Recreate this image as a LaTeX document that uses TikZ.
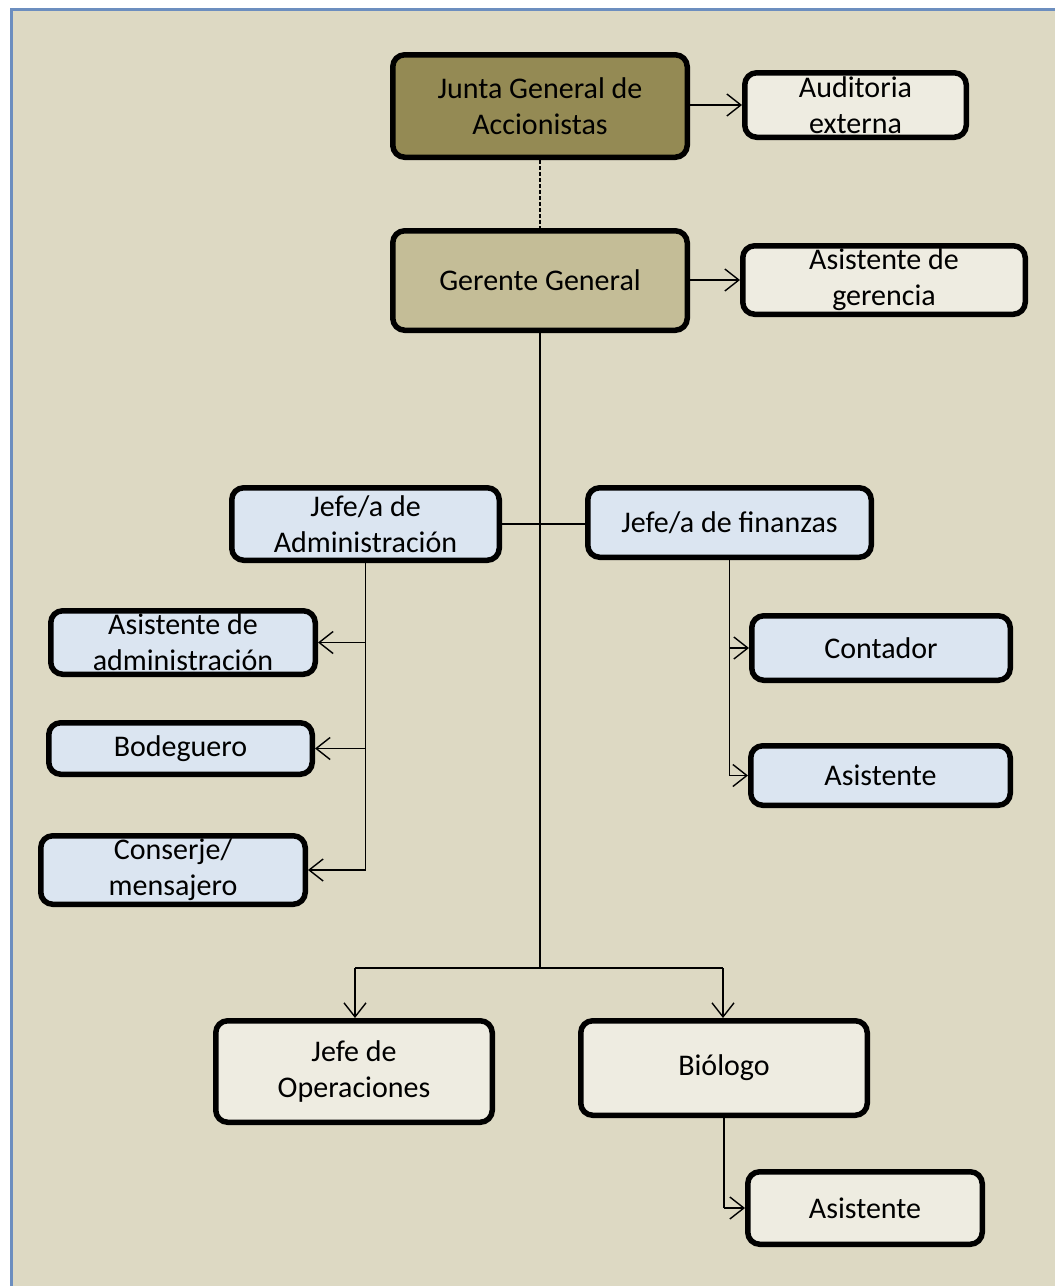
\documentclass[tikz,border=0pt]{standalone}
\usepackage{fontspec}
\setmainfont{Carlito}
\usetikzlibrary{arrows.meta}
\definecolor{bgc}{HTML}{DDD9C3}
\definecolor{bordc}{HTML}{6C8EBF}
\definecolor{olive}{HTML}{948A54}
\definecolor{tan}{HTML}{C4BD97}
\definecolor{cream}{HTML}{EEECE1}
\definecolor{paleblue}{HTML}{DBE5F1}
\tikzset{
  box/.style={draw=black, line width=5.5pt, rounded corners=12pt, align=center,
    font=\fontsize{30}{36}\selectfont, inner sep=0pt},
  conn/.style={line width=1.4pt, draw=black},
  arr/.style={conn, -{Straight Barb[length=14pt,width=22pt,line width=1.4pt]}},
}
\begin{document}
\begin{tikzpicture}[x=1pt,y=-1pt]
\useasboundingbox (0,0) rectangle (1055,1286);
\fill[bgc] (11,9) rectangle (1070,1300);
\draw[bordc, line width=3pt] (1070,9) -- (11,9) -- (11,1300);
% nodes
\node[box, fill=olive, minimum width=294.5pt, minimum height=102.5pt] (junta) at (540,106) {Junta General de\\Accionistas};
\node[box, fill=cream, minimum width=221.5pt, minimum height=64.5pt] (audit) at (855.5,105) {Auditoria\\externa};
\node[box, fill=tan, minimum width=294.5pt, minimum height=99.5pt] (ger) at (540,280.5) {Gerente General};
\node[box, fill=cream, minimum width=282.5pt, minimum height=68.5pt] (asger) at (884,280) {Asistente de\\gerencia};
\node[box, fill=paleblue, minimum width=267.5pt, minimum height=72.5pt] (jadm) at (365.5,524) {Jefe/a de\\Administración};
\node[box, fill=paleblue, minimum width=283.5pt, minimum height=69.5pt] (jfin) at (729.5,522.5) {Jefe/a de finanzas};
\node[box, fill=paleblue, minimum width=264.5pt, minimum height=63.5pt] (asadm) at (183,642.5) {Asistente de\\administración};
\node[box, fill=paleblue, minimum width=263.5pt, minimum height=51.5pt] (bod) at (180.5,748.5) {Bodeguero};
\node[box, fill=paleblue, minimum width=264.5pt, minimum height=68.5pt] (cons) at (173,870) {Conserje/\\mensajero};
\node[box, fill=paleblue, minimum width=258.5pt, minimum height=64.5pt] (cont) at (881,648) {Contador};
\node[box, fill=paleblue, minimum width=259.5pt, minimum height=59.5pt] (asfin) at (880.5,775.5) {Asistente};
\node[box, fill=cream, minimum width=276.5pt, minimum height=101.5pt] (jop) at (354,1071.5) {Jefe de\\Operaciones};
\node[box, fill=cream, minimum width=286.5pt, minimum height=94.5pt] (bio) at (724,1068) {Biólogo};
\node[box, fill=cream, minimum width=234.5pt, minimum height=72.5pt] (asbio) at (865,1208) {Asistente};
% coordinates
\coordinate (mid) at (540,968);
\coordinate (lft) at (355,968);
\coordinate (rgt) at (723,968);
\coordinate (cross) at (540,524);
% connectors
\draw[arr] (junta.east |- audit.west) -- (audit.west);
\draw[conn, dashed, dash pattern=on 4pt off 2pt] (junta.south) -- (ger.north);
\draw[arr] (ger.east |- asger.west) -- (asger.west);
\draw[conn] (ger.south) -- (mid);
\draw[conn] (lft) -- (rgt);
\draw[arr] (lft) -- (lft |- jop.north);
\draw[arr] (rgt) -- (rgt |- bio.north);
\draw[conn] (jadm.east) -- (cross) -- (jfin.west |- cross);
\draw[conn] (jadm.south) -- (jadm.south |- cons.east);
\draw[arr] (jadm.south |- asadm.east) -- (asadm.east);
\draw[arr] (jadm.south |- bod.east) -- (bod.east);
\draw[arr] (jadm.south |- cons.east) -- (cons.east);
\draw[conn] (jfin.south) -- (jfin.south |- asfin.west);
\draw[arr] (jfin.south |- cont.west) -- (cont.west);
\draw[arr] (jfin.south |- asfin.west) -- (asfin.west);
\draw[conn] (bio.south) -- (bio.south |- asbio.west);
\draw[arr] (bio.south |- asbio.west) -- (asbio.west);
\end{tikzpicture}
\end{document}
